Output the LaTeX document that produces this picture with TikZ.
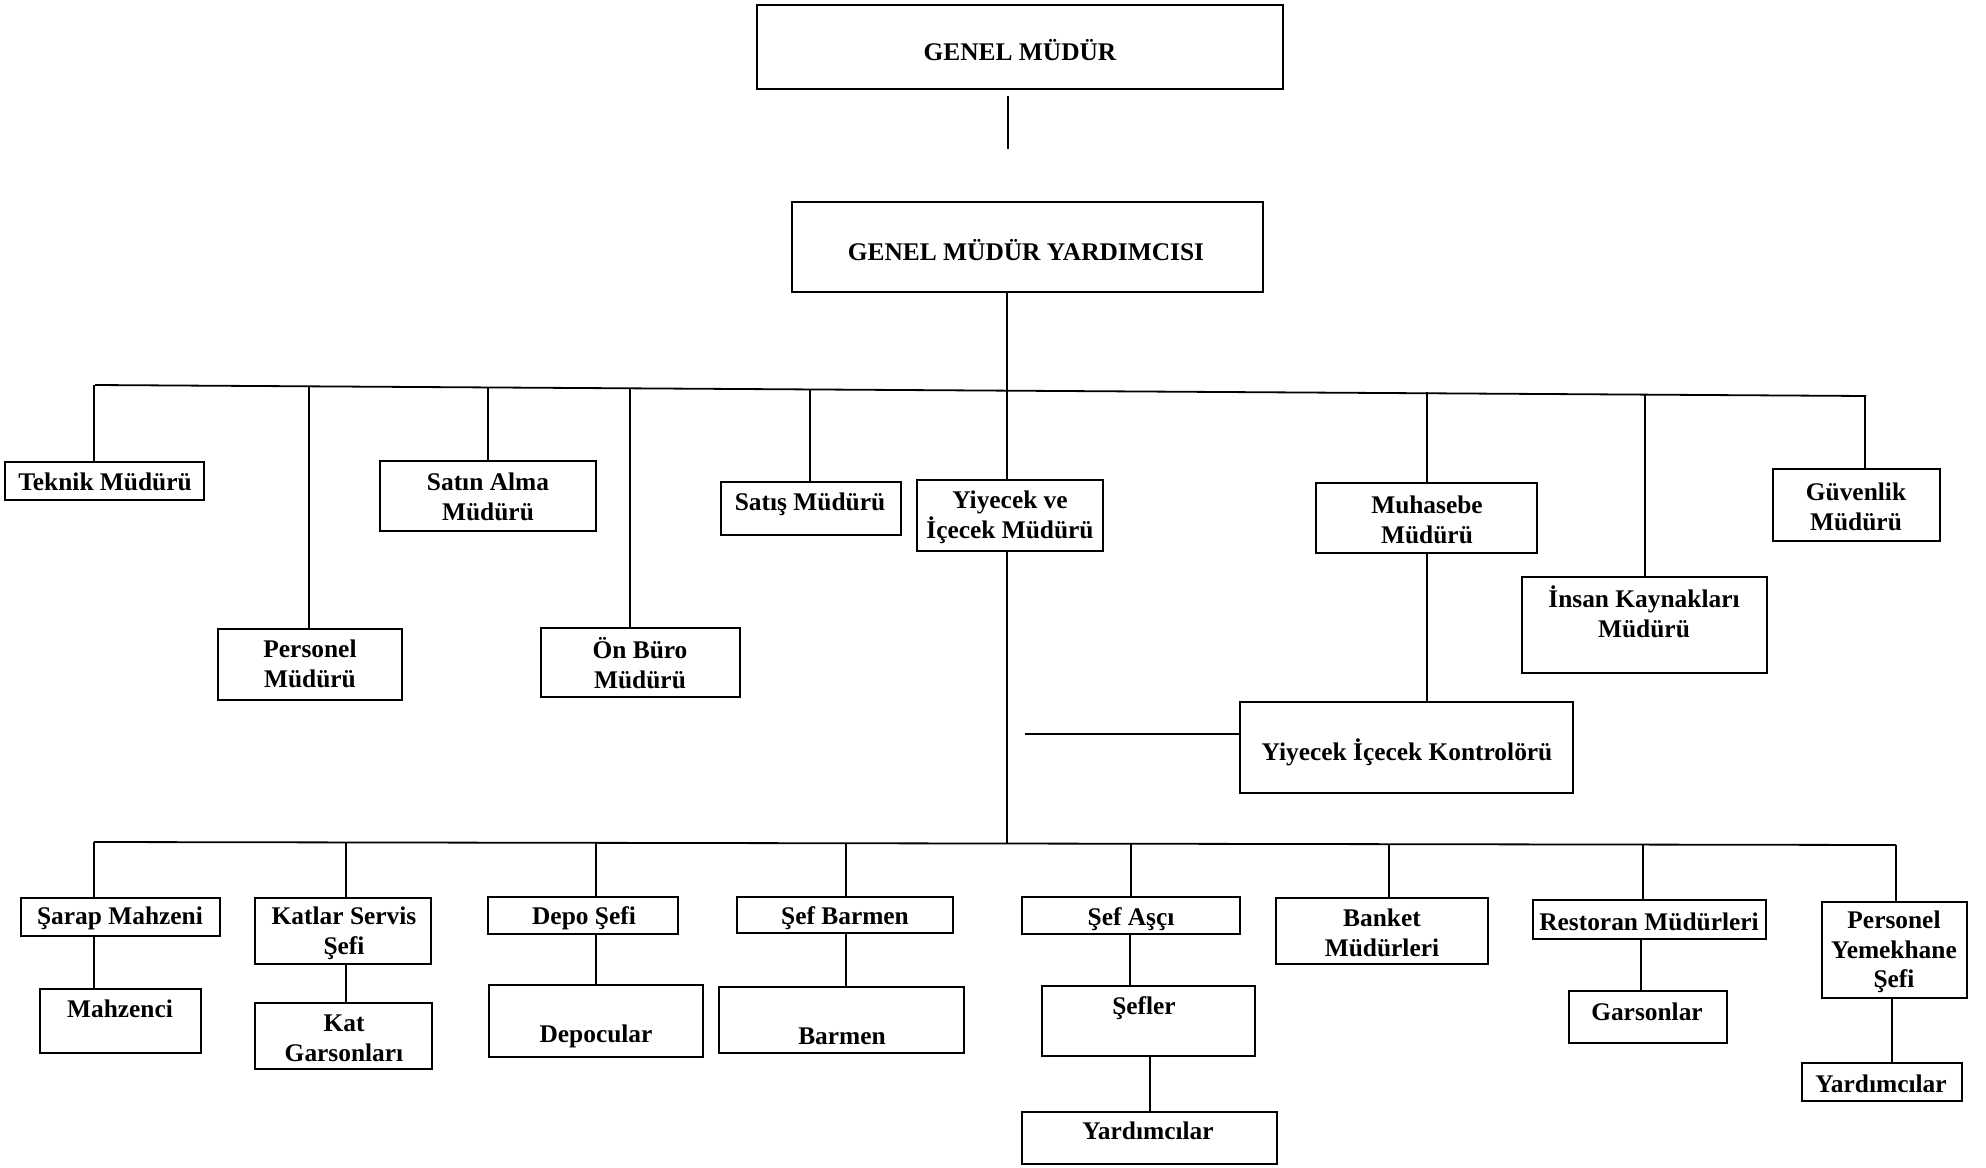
\documentclass[tikz,border=0pt]{standalone}
\usepackage{fontspec}
\setmainfont{Liberation Serif}
\newcommand\obox[5]{\node[box, minimum width=#4*0.5pt, minimum height=#5*0.5pt] (#1) at (#2,#3) {};}
\newcommand\otext[4]{\node[lbl] (#1) at (#2,#3) {#4};}
\newcommand\otextm[4]{\node[lblm] (#1) at (#2,#3) {#4};}
\begin{document}
\begin{tikzpicture}[x=0.5pt,y=-0.5pt,
  box/.style={draw, line width=1.3pt, inner sep=0pt},
  lbl/.style={font=\fontsize{12.7}{14.8}\selectfont\bfseries, inner sep=0pt, text height=0.7em, text depth=0.2em},
  lblm/.style={font=\fontsize{12.7}{14.8}\selectfont\bfseries, inner sep=0pt, align=center},
  conn/.style={line width=0.9pt}]
\useasboundingbox (0,0) rectangle (1986,1167);
% boxes
\obox{gm}{1020}{47}{526}{84}
\obox{gmy}{1027.5}{247}{471}{90}
\obox{tek}{104.5}{481}{199}{38}
\obox{satin}{488}{496}{216}{70}
\obox{pers}{310}{664.5}{184}{71}
\obox{onb}{640.5}{662.5}{199}{69}
\obox{satis}{811}{508.5}{180}{53}
\obox{yim}{1010}{515.5}{186}{71}
\obox{muh}{1426.5}{518}{221}{70}
\obox{guv}{1856.5}{505}{167}{72}
\obox{ik}{1644.5}{625}{245}{96}
\obox{yik}{1406.5}{747.5}{333}{91}
\obox{sarap}{120.5}{917}{199}{38}
\obox{mahz}{120.5}{1021}{161}{64}
\obox{katlar}{343}{931}{176}{66}
\obox{katg}{343.5}{1036}{177}{66}
\obox{depo}{583}{915.5}{190}{37}
\obox{depoc}{596}{1021}{214}{72}
\obox{sefb}{845}{915}{216}{36}
\obox{barmen}{841.5}{1020}{245}{66}
\obox{sefa}{1131}{915.5}{218}{37}
\obox{sefler}{1148.5}{1021}{213}{70}
\obox{yardA}{1149.5}{1138}{255}{52}
\obox{banket}{1382}{931}{212}{66}
\obox{rest}{1649.5}{919.5}{233}{39}
\obox{gars}{1648}{1017}{158}{52}
\obox{pys}{1894.5}{950}{145}{96}
\obox{yardB}{1882}{1082}{160}{38}
% texts
\otext{gm-t}{1020}{55}{GENEL MÜDÜR}
\otext{gmy-t}{1026}{255}{GENEL MÜDÜR YARDIMCISI}
\otext{tek-t}{105}{485}{Teknik Müdürü}
\otextm{satin-t}{488}{497}{Satın Alma\\Müdürü}
\otextm{pers-t}{310}{664}{Personel\\Müdürü}
\otextm{onb-t}{640}{663}{Ön Büro\\Müdürü}
\otext{satis-t}{810}{505}{Satış Müdürü}
\otextm{yim-t}{1010}{517}{Yiyecek ve\\İçecek Müdürü}
\otextm{muh-t}{1427}{520}{Muhasebe\\Müdürü}
\otextm{guv-t}{1856}{507}{Güvenlik\\Müdürü}
\otextm{ik-t}{1644}{612}{İnsan Kaynakları\\Müdürü}
\otext{yik-t}{1407}{755}{Yiyecek İçecek Kontrolörü}
\otext{sarap-t}{120}{919}{Şarap Mahzeni}
\otext{mahz-t}{120}{1012}{Mahzenci}
\otextm{katlar-t}{344}{933}{Katlar Servis\\Şefi}
\otextm{katg-t}{344}{1038}{Kat\\Garsonları}
\otext{depo-t}{584}{919}{Depo Şefi}
\otext{depoc-t}{596}{1037}{Depocular}
\otext{sefb-t}{845}{919}{Şef Barmen}
\otext{barmen-t}{842}{1039}{Barmen}
\otext{sefa-t}{1131}{920}{Şef Aşçı}
\otext{sefler-t}{1144}{1009}{Şefler}
\otext{yardA-t}{1148}{1134}{Yardımcılar}
\otextm{banket-t}{1382}{933}{Banket\\Müdürleri}
\otext{rest-t}{1649}{925}{Restoran Müdürleri}
\otext{gars-t}{1647}{1015}{Garsonlar}
\otextm{pys-t}{1894}{952}{Personel\\Yemekhane\\Şefi}
\otext{yardB-t}{1881}{1087}{Yardımcılar}
% connectors
\coordinate (b1l) at (95,385);
\coordinate (b1r) at (1866,396);
\coordinate (b2l) at (94,842);
\coordinate (b2r) at (1896,845);
\coordinate (kj) at (1025,734);
\draw[conn, shorten <=3pt, shorten >=26pt] (gm.south -| 1008,0) -- (gmy.north -| 1008,0);
\draw[conn] (gmy.south -| 1007,0) -- (1007,387);
\draw[conn] (b1l) -- (b1r);
\draw[conn] (tek.north -| 94,0) -- (94,385);
\draw[conn] (pers.north -| 309,0) -- (309,386);
\draw[conn] (satin.north -| 488,0) -- (488,387);
\draw[conn] (onb.north -| 630,0) -- (630,388);
\draw[conn] (satis.north -| 810,0) -- (810,389);
\draw[conn] (yim.north -| 1007,0) -- (1007,387);
\draw[conn] (muh.north -| 1427,0) -- (1427,392);
\draw[conn] (ik.north -| 1645,0) -- (1645,394);
\draw[conn] (guv.north -| 1865,0) -- (1865,396);
\draw[conn] (muh.south -| 1427,0) -- (yik.north -| 1427,0);
\draw[conn] (kj) -- (yik.west |- kj);
\draw[conn] (yim.south -| 1007,0) -- (1007,843);
\draw[conn] (b2l) -- (b2r);
\draw[conn] (sarap.north -| 94,0) -- (94,842);
\draw[conn] (katlar.north -| 346,0) -- (346,842);
\draw[conn] (depo.north -| 596,0) -- (596,842);
\draw[conn] (sefb.north -| 846,0) -- (846,843);
\draw[conn] (sefa.north -| 1131,0) -- (1131,843);
\draw[conn] (banket.north -| 1389,0) -- (1389,844);
\draw[conn] (rest.north -| 1643,0) -- (1643,844);
\draw[conn] (pys.north -| 1896,0) -- (1896,845);
\draw[conn] (sarap.south -| 94,0) -- (mahz.north -| 94,0);
\draw[conn] (katlar.south -| 346,0) -- (katg.north -| 346,0);
\draw[conn] (depo.south -| 596,0) -- (depoc.north -| 596,0);
\draw[conn] (sefb.south -| 846,0) -- (barmen.north -| 846,0);
\draw[conn] (sefa.south -| 1130,0) -- (sefler.north -| 1130,0);
\draw[conn] (sefler.south -| 1150,0) -- (yardA.north -| 1150,0);
\draw[conn] (rest.south -| 1641,0) -- (gars.north -| 1641,0);
\draw[conn] (pys.south -| 1892,0) -- (yardB.north -| 1892,0);
\end{tikzpicture}
\end{document}
